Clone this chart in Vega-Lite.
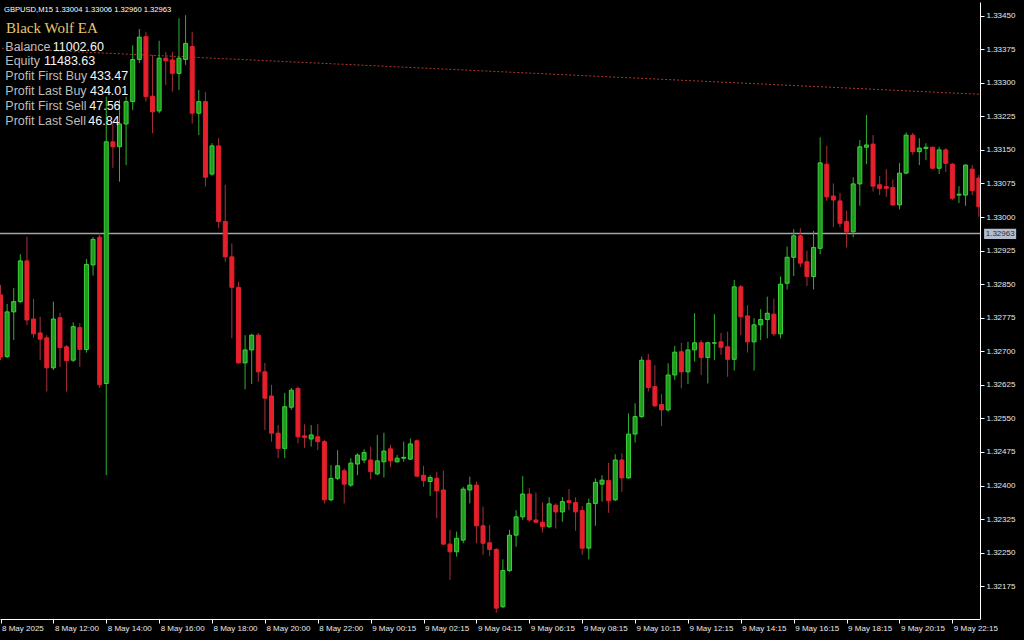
{
"$schema":"https://vega.github.io/schema/vega-lite/v6.json",
"width":980,"height":617,
"autosize":{"type":"none"},
"padding":{"left":0,"top":2,"right":44,"bottom":21},
"background":"#000000",
"config":{"view":{"stroke":null},"scale":{"continuousPadding":0},
 "axis":{"domainColor":"#ffffff","tickColor":"#ffffff","labelColor":"#e8e8e8","labelFont":"Liberation Sans","labelFontSize":8,"grid":false,"labelOverlap":false}},
"datasets":{
"candles":[
{"i":0,"o":1.32826,"h":1.32848,"l":1.32680,"c":1.32687},
{"i":1,"o":1.32688,"h":1.32806,"l":1.32685,"c":1.32788},
{"i":2,"o":1.32788,"h":1.32841,"l":1.32725,"c":1.32811},
{"i":3,"o":1.32811,"h":1.32917,"l":1.32808,"c":1.32902},
{"i":4,"o":1.32902,"h":1.32956,"l":1.32759,"c":1.32770},
{"i":5,"o":1.32772,"h":1.32817,"l":1.32730,"c":1.32739},
{"i":6,"o":1.32741,"h":1.32777,"l":1.32680,"c":1.32727},
{"i":7,"o":1.32730,"h":1.32736,"l":1.32610,"c":1.32663},
{"i":8,"o":1.32663,"h":1.32811,"l":1.32658,"c":1.32772},
{"i":9,"o":1.32775,"h":1.32786,"l":1.32665,"c":1.32708},
{"i":10,"o":1.32710,"h":1.32714,"l":1.32610,"c":1.32679},
{"i":11,"o":1.32680,"h":1.32765,"l":1.32676,"c":1.32755},
{"i":12,"o":1.32753,"h":1.32763,"l":1.32665,"c":1.32704},
{"i":13,"o":1.32704,"h":1.32906,"l":1.32697,"c":1.32894},
{"i":14,"o":1.32893,"h":1.32955,"l":1.32869,"c":1.32950},
{"i":15,"o":1.32955,"h":1.32964,"l":1.32618,"c":1.32625},
{"i":16,"o":1.32628,"h":1.33269,"l":1.32423,"c":1.33168},
{"i":17,"o":1.33168,"h":1.33210,"l":1.33110,"c":1.33157},
{"i":18,"o":1.33157,"h":1.33262,"l":1.33079,"c":1.33208},
{"i":19,"o":1.33208,"h":1.33269,"l":1.33116,"c":1.33258},
{"i":20,"o":1.33258,"h":1.33384,"l":1.33239,"c":1.33352},
{"i":21,"o":1.33352,"h":1.33420,"l":1.33344,"c":1.33402},
{"i":22,"o":1.33403,"h":1.33414,"l":1.33258,"c":1.33269},
{"i":23,"o":1.33270,"h":1.33362,"l":1.33187,"c":1.33235},
{"i":24,"o":1.33237,"h":1.33394,"l":1.33232,"c":1.33355},
{"i":25,"o":1.33355,"h":1.33369,"l":1.33295,"c":1.33349},
{"i":26,"o":1.33351,"h":1.33369,"l":1.33280,"c":1.33321},
{"i":27,"o":1.33321,"h":1.33444,"l":1.33284,"c":1.33355},
{"i":28,"o":1.33352,"h":1.33451,"l":1.33340,"c":1.33388},
{"i":29,"o":1.33381,"h":1.33414,"l":1.33209,"c":1.33232},
{"i":30,"o":1.33232,"h":1.33284,"l":1.33183,"c":1.33258},
{"i":31,"o":1.33258,"h":1.33279,"l":1.33068,"c":1.33089},
{"i":32,"o":1.33096,"h":1.33165,"l":1.33092,"c":1.33159},
{"i":33,"o":1.33159,"h":1.33176,"l":1.32975,"c":1.32990},
{"i":34,"o":1.32990,"h":1.33072,"l":1.32900,"c":1.32911},
{"i":35,"o":1.32911,"h":1.32941,"l":1.32729,"c":1.32843},
{"i":36,"o":1.32843,"h":1.32855,"l":1.32672,"c":1.32674},
{"i":37,"o":1.32674,"h":1.32736,"l":1.32615,"c":1.32703},
{"i":38,"o":1.32703,"h":1.32739,"l":1.32627,"c":1.32736},
{"i":39,"o":1.32736,"h":1.32741,"l":1.32632,"c":1.32654},
{"i":40,"o":1.32654,"h":1.32674,"l":1.32524,"c":1.32595},
{"i":41,"o":1.32600,"h":1.32625,"l":1.32498,"c":1.32517},
{"i":42,"o":1.32517,"h":1.32535,"l":1.32461,"c":1.32483},
{"i":43,"o":1.32483,"h":1.32607,"l":1.32461,"c":1.32576},
{"i":44,"o":1.32575,"h":1.32618,"l":1.32569,"c":1.32613},
{"i":45,"o":1.32617,"h":1.32621,"l":1.32494,"c":1.32509},
{"i":46,"o":1.32511,"h":1.32537,"l":1.32484,"c":1.32507},
{"i":47,"o":1.32504,"h":1.32535,"l":1.32487,"c":1.32513},
{"i":48,"o":1.32509,"h":1.32537,"l":1.32479,"c":1.32498},
{"i":49,"o":1.32498,"h":1.32502,"l":1.32360,"c":1.32368},
{"i":50,"o":1.32368,"h":1.32446,"l":1.32365,"c":1.32416},
{"i":51,"o":1.32416,"h":1.32479,"l":1.32412,"c":1.32444},
{"i":52,"o":1.32433,"h":1.32438,"l":1.32360,"c":1.32403},
{"i":53,"o":1.32401,"h":1.32461,"l":1.32397,"c":1.32450},
{"i":54,"o":1.32448,"h":1.32472,"l":1.32423,"c":1.32468},
{"i":55,"o":1.32457,"h":1.32481,"l":1.32450,"c":1.32474},
{"i":56,"o":1.32457,"h":1.32487,"l":1.32414,"c":1.32431},
{"i":57,"o":1.32426,"h":1.32513,"l":1.32423,"c":1.32455},
{"i":58,"o":1.32453,"h":1.32518,"l":1.32418,"c":1.32477},
{"i":59,"o":1.32482,"h":1.32491,"l":1.32441,"c":1.32455},
{"i":60,"o":1.32453,"h":1.32468,"l":1.32451,"c":1.32461},
{"i":61,"o":1.32461,"h":1.32498,"l":1.32453,"c":1.32463},
{"i":62,"o":1.32459,"h":1.32505,"l":1.32457,"c":1.32493},
{"i":63,"o":1.32500,"h":1.32503,"l":1.32419,"c":1.32421},
{"i":64,"o":1.32423,"h":1.32444,"l":1.32397,"c":1.32411},
{"i":65,"o":1.32409,"h":1.32423,"l":1.32377,"c":1.32418},
{"i":66,"o":1.32416,"h":1.32431,"l":1.32327,"c":1.32388},
{"i":67,"o":1.32390,"h":1.32433,"l":1.32267,"c":1.32269},
{"i":68,"o":1.32269,"h":1.32301,"l":1.32189,"c":1.32252},
{"i":69,"o":1.32252,"h":1.32297,"l":1.32241,"c":1.32282},
{"i":70,"o":1.32278,"h":1.32397,"l":1.32271,"c":1.32392},
{"i":71,"o":1.32390,"h":1.32420,"l":1.32360,"c":1.32401},
{"i":72,"o":1.32401,"h":1.32409,"l":1.32271,"c":1.32310},
{"i":73,"o":1.32310,"h":1.32353,"l":1.32245,"c":1.32271},
{"i":74,"o":1.32272,"h":1.32312,"l":1.32242,"c":1.32257},
{"i":75,"o":1.32257,"h":1.32260,"l":1.32116,"c":1.32126},
{"i":76,"o":1.32129,"h":1.32235,"l":1.32126,"c":1.32210},
{"i":77,"o":1.32210,"h":1.32301,"l":1.32207,"c":1.32289},
{"i":78,"o":1.32289,"h":1.32345,"l":1.32263,"c":1.32330},
{"i":79,"o":1.32330,"h":1.32421,"l":1.32323,"c":1.32381},
{"i":80,"o":1.32381,"h":1.32394,"l":1.32319,"c":1.32323},
{"i":81,"o":1.32323,"h":1.32384,"l":1.32316,"c":1.32318},
{"i":82,"o":1.32318,"h":1.32362,"l":1.32295,"c":1.32308},
{"i":83,"o":1.32308,"h":1.32374,"l":1.32305,"c":1.32359},
{"i":84,"o":1.32356,"h":1.32360,"l":1.32304,"c":1.32341},
{"i":85,"o":1.32341,"h":1.32374,"l":1.32319,"c":1.32364},
{"i":86,"o":1.32366,"h":1.32392,"l":1.32345,"c":1.32362},
{"i":87,"o":1.32362,"h":1.32374,"l":1.32299,"c":1.32341},
{"i":88,"o":1.32344,"h":1.32354,"l":1.32245,"c":1.32260},
{"i":89,"o":1.32260,"h":1.32371,"l":1.32235,"c":1.32360},
{"i":90,"o":1.32360,"h":1.32416,"l":1.32310,"c":1.32407},
{"i":91,"o":1.32403,"h":1.32423,"l":1.32364,"c":1.32412},
{"i":92,"o":1.32411,"h":1.32451,"l":1.32339,"c":1.32366},
{"i":93,"o":1.32368,"h":1.32470,"l":1.32365,"c":1.32457},
{"i":94,"o":1.32457,"h":1.32472,"l":1.32386,"c":1.32417},
{"i":95,"o":1.32417,"h":1.32561,"l":1.32415,"c":1.32515},
{"i":96,"o":1.32515,"h":1.32584,"l":1.32496,"c":1.32554},
{"i":97,"o":1.32554,"h":1.32688,"l":1.32551,"c":1.32680},
{"i":98,"o":1.32680,"h":1.32694,"l":1.32610,"c":1.32619},
{"i":99,"o":1.32621,"h":1.32669,"l":1.32576,"c":1.32578},
{"i":100,"o":1.32581,"h":1.32604,"l":1.32533,"c":1.32569},
{"i":101,"o":1.32569,"h":1.32673,"l":1.32565,"c":1.32647},
{"i":102,"o":1.32647,"h":1.32712,"l":1.32636,"c":1.32698},
{"i":103,"o":1.32699,"h":1.32719,"l":1.32617,"c":1.32654},
{"i":104,"o":1.32654,"h":1.32721,"l":1.32627,"c":1.32703},
{"i":105,"o":1.32703,"h":1.32785,"l":1.32677,"c":1.32719},
{"i":106,"o":1.32719,"h":1.32725,"l":1.32647,"c":1.32686},
{"i":107,"o":1.32686,"h":1.32721,"l":1.32628,"c":1.32719},
{"i":108,"o":1.32718,"h":1.32783,"l":1.32680,"c":1.32719},
{"i":109,"o":1.32721,"h":1.32741,"l":1.32692,"c":1.32709},
{"i":110,"o":1.32710,"h":1.32744,"l":1.32643,"c":1.32682},
{"i":111,"o":1.32682,"h":1.32859,"l":1.32657,"c":1.32844},
{"i":112,"o":1.32844,"h":1.32848,"l":1.32736,"c":1.32777},
{"i":113,"o":1.32779,"h":1.32803,"l":1.32697,"c":1.32721},
{"i":114,"o":1.32721,"h":1.32774,"l":1.32657,"c":1.32759},
{"i":115,"o":1.32759,"h":1.32794,"l":1.32725,"c":1.32771},
{"i":116,"o":1.32771,"h":1.32822,"l":1.32729,"c":1.32785},
{"i":117,"o":1.32783,"h":1.32818,"l":1.32734,"c":1.32739},
{"i":118,"o":1.32739,"h":1.32867,"l":1.32729,"c":1.32850},
{"i":119,"o":1.32852,"h":1.32934,"l":1.32838,"c":1.32910},
{"i":120,"o":1.32910,"h":1.32973,"l":1.32868,"c":1.32958},
{"i":121,"o":1.32958,"h":1.32975,"l":1.32888,"c":1.32897},
{"i":122,"o":1.32900,"h":1.32925,"l":1.32846,"c":1.32867},
{"i":123,"o":1.32867,"h":1.32969,"l":1.32838,"c":1.32932},
{"i":124,"o":1.32930,"h":1.33178,"l":1.32917,"c":1.33121},
{"i":125,"o":1.33118,"h":1.33159,"l":1.33036,"c":1.33045},
{"i":126,"o":1.33047,"h":1.33075,"l":1.32978,"c":1.33038},
{"i":127,"o":1.33036,"h":1.33054,"l":1.32977,"c":1.32986},
{"i":128,"o":1.32990,"h":1.33014,"l":1.32932,"c":1.32967},
{"i":129,"o":1.32967,"h":1.33089,"l":1.32955,"c":1.33074},
{"i":130,"o":1.33074,"h":1.33172,"l":1.33025,"c":1.33157},
{"i":131,"o":1.33156,"h":1.33228,"l":1.33118,"c":1.33161},
{"i":132,"o":1.33163,"h":1.33183,"l":1.33057,"c":1.33069},
{"i":133,"o":1.33072,"h":1.33092,"l":1.33049,"c":1.33064},
{"i":134,"o":1.33068,"h":1.33107,"l":1.33045,"c":1.33064},
{"i":135,"o":1.33066,"h":1.33084,"l":1.33025,"c":1.33027},
{"i":136,"o":1.33027,"h":1.33121,"l":1.33017,"c":1.33098},
{"i":137,"o":1.33098,"h":1.33189,"l":1.33096,"c":1.33183},
{"i":138,"o":1.33183,"h":1.33188,"l":1.33139,"c":1.33146},
{"i":139,"o":1.33146,"h":1.33176,"l":1.33116,"c":1.33154},
{"i":140,"o":1.33153,"h":1.33165,"l":1.33127,"c":1.33156},
{"i":141,"o":1.33156,"h":1.33157,"l":1.33107,"c":1.33109},
{"i":142,"o":1.33109,"h":1.33157,"l":1.33096,"c":1.33150},
{"i":143,"o":1.33150,"h":1.33154,"l":1.33101,"c":1.33120},
{"i":144,"o":1.33118,"h":1.33121,"l":1.33038,"c":1.33042},
{"i":145,"o":1.33049,"h":1.33069,"l":1.33031,"c":1.33051},
{"i":146,"o":1.33049,"h":1.33118,"l":1.33025,"c":1.33116},
{"i":147,"o":1.33107,"h":1.33116,"l":1.33049,"c":1.33059},
{"i":148,"o":1.33087,"h":1.33094,"l":1.33001,"c":1.33023},
{"i":149,"o":1.33004,"h":1.33006,"l":1.32960,"c":1.32963}
],
"level":[{"i":-1,"p":1.33378},{"i":150,"p":1.33273}],
"quote":[{"bid":1.32963}],
"panel":[
{"item":"Balance","amount":"11002.60"},
{"item":"Equity","amount":"11483.63"},
{"item":"Profit First Buy","amount":"433.47"},
{"item":"Profit Last Buy","amount":"434.01"},
{"item":"Profit First Sell","amount":"47.56"},
{"item":"Profit Last Sell","amount":"46.84"}
]
},
"layer":[
{
"layer":[
{"data":{"name":"level"},
 "mark":{"type":"line","color":"#b23a2c","strokeWidth":1,"strokeDash":[2,2],"clip":true},
 "encoding":{
  "x":{"field":"i","type":"quantitative","title":null,"scale":{"domain":[-0.076,148.18],"nice":false,"zero":false,"padding":0}},
  "y":{"field":"p","type":"quantitative","title":null,"scale":{"domain":[1.321017,1.334805],"nice":false,"zero":false,"padding":0}}
 }},
{"data":{"name":"quote"},
 "mark":{"type":"rule","color":"#a4a4a4","strokeWidth":1.5},
 "encoding":{"y":{"field":"bid","type":"quantitative","title":null,"scale":{"domain":[1.321017,1.334805],"nice":false,"zero":false,"padding":0}}}},
{"data":{"name":"candles"},
 "mark":{"type":"rule","strokeWidth":1,"clip":true},
 "encoding":{
  "x":{"field":"i","type":"quantitative","title":null,"scale":{"domain":[-0.076,148.18],"nice":false,"zero":false,"padding":0}},
  "y":{"field":"l","type":"quantitative","title":null,"scale":{"domain":[1.321017,1.334805],"nice":false,"zero":false,"padding":0}},
  "y2":{"field":"h"},
  "color":{"condition":{"test":"datum.c >= datum.o","value":"#2fb22f"},"value":"#a8303c"}
 }},
{"data":{"name":"candles"},
 "mark":{"type":"bar","size":4,"strokeWidth":1,"clip":true},
 "encoding":{
  "x":{"field":"i","type":"quantitative","title":null,"scale":{"domain":[-0.076,148.18],"nice":false,"zero":false,"padding":0},
   "axis":{"orient":"bottom","values":[0,8,16,24,32,40,48,56,64,72,80,88,96,104,112,120,128,136,144],"tickCount":40,
    "labelExpr":"['8 May 2025','8 May 12:00','8 May 14:00','8 May 16:00','8 May 18:00','8 May 20:00','8 May 22:00','9 May 00:15','9 May 02:15','9 May 04:15','9 May 06:15','9 May 08:15','9 May 10:15','9 May 12:15','9 May 14:15','9 May 16:15','9 May 18:15','9 May 20:15','9 May 22:15'][round(datum.value/8)]",
    "labelAlign":"left","labelBaseline":"top","labelPadding":1,"labelOffset":1,"tickSize":4,"labelFlush":false,"labelOverlap":false,"labelBound":false}},
  "y":{"field":"o","type":"quantitative","title":null,"scale":{"domain":[1.321017,1.334805],"nice":false,"zero":false,"padding":0},
   "axis":{"orient":"right","values":[1.32175,1.3225,1.32325,1.324,1.32475,1.3255,1.32625,1.327,1.32775,1.3285,1.32925,1.33,1.33075,1.3315,1.33225,1.333,1.33375,1.3345],"tickCount":40,
    "format":".5f","tickSize":4,"labelPadding":2,"labelFlush":false,"labelOverlap":false,"labelBound":false,"labelBaseline":"middle"}},
  "y2":{"field":"c"},
  "fill":{"condition":{"test":"datum.c >= datum.o","value":"#1f9a1f"},"value":"#e4202c"},
  "stroke":{"condition":{"test":"datum.c >= datum.o","value":"#3ad23a"},"value":"#e4202c"}
 }},
{"data":{"name":"quote"},
 "mark":{"type":"rect","color":"#b6bdca","clip":false},
 "encoding":{
  "x":{"datum":148.8,"scale":{"domain":[-0.076,148.18],"nice":false,"zero":false,"padding":0}},
  "x2":{"datum":153.65},
  "y":{"datum":1.32974,"scale":{"domain":[1.321017,1.334805],"nice":false,"zero":false,"padding":0}},
  "y2":{"datum":1.32951}
 }},
{"data":{"name":"quote"},
 "mark":{"type":"text","color":"#2a2f3a","font":"Liberation Sans","fontSize":8,"align":"left","baseline":"middle","clip":false},
 "encoding":{
  "x":{"datum":149.05,"scale":{"domain":[-0.076,148.18],"nice":false,"zero":false,"padding":0}},
  "y":{"field":"bid","type":"quantitative","title":null,"scale":{"domain":[1.321017,1.334805],"nice":false,"zero":false,"padding":0}},
  "text":{"field":"bid","format":".5f"}
 }},
{"data":{"values":[{"caption":"GBPUSD,M15  1.33004 1.33006 1.32960 1.32963"}]},
 "mark":{"type":"text","color":"#ffffff","font":"Liberation Sans","fontSize":7.6,"align":"left","baseline":"alphabetic"},
 "encoding":{
  "x":{"datum":0.53,"scale":{"domain":[-0.076,148.18],"nice":false,"zero":false,"padding":0}},
  "y":{"datum":1.334582,"scale":{"domain":[1.321017,1.334805],"nice":false,"zero":false,"padding":0}},
  "text":{"field":"caption"}
 }},
{"data":{"values":[{"name":"Black Wolf EA"}]},
 "mark":{"type":"text","color":"#e6c86e","font":"Liberation Serif","fontSize":15,"align":"left","baseline":"alphabetic"},
 "encoding":{
  "x":{"datum":0.83,"scale":{"domain":[-0.076,148.18],"nice":false,"zero":false,"padding":0}},
  "y":{"datum":1.334119,"scale":{"domain":[1.321017,1.334805],"nice":false,"zero":false,"padding":0}},
  "text":{"field":"name"}
 }}
]
},
{"data":{"name":"panel"},
 "encoding":{
  "y":{"field":"item","type":"nominal","sort":null,"axis":null,"scale":{"type":"point","padding":0,"domain":["Balance","Equity","Profit First Buy","Profit Last Buy","Profit First Sell","Profit Last Sell"],"range":[48.5,122.7]}}
 },
 "layer":[
  {"mark":{"type":"text","color":"#bdbdbd","font":"Liberation Sans","fontSize":12.5,"align":"left","baseline":"alphabetic"},
   "encoding":{"x":{"datum":0.73,"scale":{"domain":[-0.076,148.18],"nice":false,"zero":false,"padding":0}},"text":{"field":"item"}}},
  {"transform":[{"filter":"datum.item == 'Balance'"}],
   "mark":{"type":"text","color":"#f6f6f6","font":"Liberation Sans","fontSize":12.5,"align":"left","baseline":"alphabetic"},
   "encoding":{"x":{"datum":7.9,"scale":{"domain":[-0.076,148.18],"nice":false,"zero":false,"padding":0}},"text":{"field":"amount"}}},
  {"transform":[{"filter":"datum.item == 'Equity'"}],
   "mark":{"type":"text","color":"#f6f6f6","font":"Liberation Sans","fontSize":12.5,"align":"left","baseline":"alphabetic"},
   "encoding":{"x":{"datum":6.58,"scale":{"domain":[-0.076,148.18],"nice":false,"zero":false,"padding":0}},"text":{"field":"amount"}}},
  {"transform":[{"filter":"datum.item == 'Profit First Buy'"}],
   "mark":{"type":"text","color":"#f6f6f6","font":"Liberation Sans","fontSize":12.5,"align":"left","baseline":"alphabetic"},
   "encoding":{"x":{"datum":13.54,"scale":{"domain":[-0.076,148.18],"nice":false,"zero":false,"padding":0}},"text":{"field":"amount"}}},
  {"transform":[{"filter":"datum.item == 'Profit Last Buy'"}],
   "mark":{"type":"text","color":"#f6f6f6","font":"Liberation Sans","fontSize":12.5,"align":"left","baseline":"alphabetic"},
   "encoding":{"x":{"datum":13.54,"scale":{"domain":[-0.076,148.18],"nice":false,"zero":false,"padding":0}},"text":{"field":"amount"}}},
  {"transform":[{"filter":"datum.item == 'Profit First Sell'"}],
   "mark":{"type":"text","color":"#f6f6f6","font":"Liberation Sans","fontSize":12.5,"align":"left","baseline":"alphabetic"},
   "encoding":{"x":{"datum":13.43,"scale":{"domain":[-0.076,148.18],"nice":false,"zero":false,"padding":0}},"text":{"field":"amount"}}},
  {"transform":[{"filter":"datum.item == 'Profit Last Sell'"}],
   "mark":{"type":"text","color":"#f6f6f6","font":"Liberation Sans","fontSize":12.5,"align":"left","baseline":"alphabetic"},
   "encoding":{"x":{"datum":13.28,"scale":{"domain":[-0.076,148.18],"nice":false,"zero":false,"padding":0}},"text":{"field":"amount"}}}
 ]
}
],
"resolve":{"scale":{"y":"independent"}}
}
